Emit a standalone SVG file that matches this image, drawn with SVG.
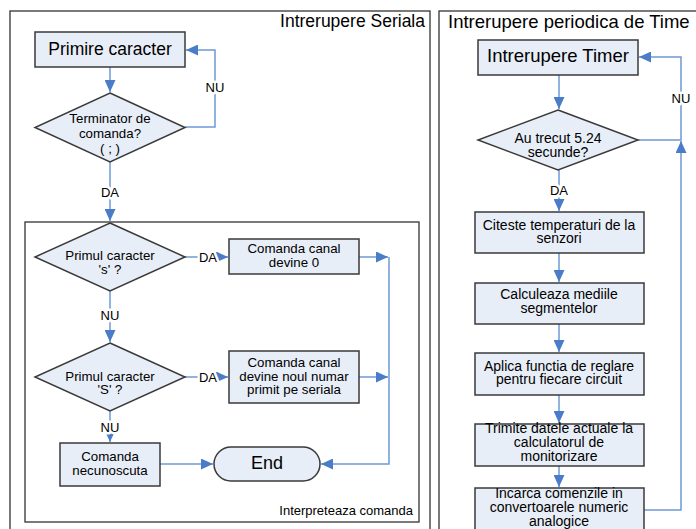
<svg xmlns="http://www.w3.org/2000/svg" width="696" height="529" viewBox="0 0 696 529">
<style>
text{font-family:"Liberation Sans",Arial,sans-serif;fill:#000}
.frame{fill:#fff;stroke:#333;stroke-width:1.3}
.box{fill:#E8EEF7;stroke:#3a3a3a;stroke-width:1.5}
.ln{fill:none;stroke:#6E98D6;stroke-width:1.5}
.lbl{font-size:13px;text-anchor:middle;stroke:#fff;stroke-width:5;paint-order:stroke;stroke-linejoin:round}
.t13{font-size:13.3px;text-anchor:middle}
.t14{font-size:14px;text-anchor:middle}
</style>
<defs>
<marker id="ah" markerUnits="userSpaceOnUse" markerWidth="13" markerHeight="11" refX="12" refY="5.5" orient="auto">
<path d="M0,0 L12,5.5 L0,11 z" fill="#4A7CC7"/>
</marker>
</defs>
<rect width="696" height="529" fill="#fff"/>
<g id="frame-seriala">
<rect class="frame" x="10" y="11" width="420" height="600"/>
<text x="425" y="27" font-size="17.5" text-anchor="end">Intrerupere Seriala</text>
</g>
<g id="frame-timer">
<rect class="frame" x="439" y="11" width="300" height="600"/>
<text x="448" y="28" font-size="18.5">Intrerupere periodica de Time</text>
</g>
<g id="frame-interpreteaza">
<rect class="frame" x="25" y="222" width="394" height="300"/>
<text x="413" y="515" font-size="13" text-anchor="end">Interpreteaza comanda</text>
</g>
<g id="connectors">
<path class="ln" d="M110,67 V92" marker-end="url(#ah)"/>
<path class="ln" d="M185,127 H215 V50 H186" marker-end="url(#ah)"/>
<path class="ln" d="M110,162 V221" marker-end="url(#ah)"/>
<path class="ln" d="M185,257 H228" marker-end="url(#ah)"/>
<path class="ln" d="M110,291 V342" marker-end="url(#ah)"/>
<path class="ln" d="M185,377 H228" marker-end="url(#ah)"/>
<path class="ln" d="M110,411 V442" marker-end="url(#ah)"/>
<path class="ln" d="M160,464 H213" marker-end="url(#ah)"/>
<path class="ln" d="M359,257 H388" marker-end="url(#ah)"/>
<path class="ln" d="M359,377 H388" marker-end="url(#ah)"/>
<path class="ln" d="M389,257 V464 H321" marker-end="url(#ah)"/>
<path class="ln" d="M559,75 V109" marker-end="url(#ah)"/>
<path class="ln" d="M638,140 H681 V57 H639" marker-end="url(#ah)"/>
<path class="ln" d="M559,170 V211" marker-end="url(#ah)"/>
<path class="ln" d="M559,253 V282" marker-end="url(#ah)"/>
<path class="ln" d="M559,324 V352" marker-end="url(#ah)"/>
<path class="ln" d="M559,395 V423" marker-end="url(#ah)"/>
<path class="ln" d="M559,466 V487" marker-end="url(#ah)"/>
<path class="ln" d="M644,510 H681 V141" marker-end="url(#ah)"/>
<text class="lbl" x="215" y="92">NU</text>
<text class="lbl" x="110" y="197">DA</text>
<text class="lbl" x="208" y="262">DA</text>
<text class="lbl" x="110" y="320">NU</text>
<text class="lbl" x="208" y="382">DA</text>
<text class="lbl" x="110" y="432">NU</text>
<text class="lbl" x="681" y="103">NU</text>
<text class="lbl" x="559" y="195">DA</text>
</g>
<g id="primire">
<rect class="box" x="35" y="32" width="150" height="35"/>
<text x="110" y="55" font-size="17.5" text-anchor="middle">Primire caracter</text>
</g>
<g id="terminator">
<polygon class="box" points="110,93 185,127.5 110,162 35,127.5"/>
<text class="t13" x="110" y="123">Terminator de</text>
<text class="t13" x="110" y="138">comanda?</text>
<text class="t13" x="110" y="153">( ; )</text>
</g>
<g id="primul-s">
<polygon class="box" points="110,223 185,257 110,291 35,257"/>
<text class="t13" x="110" y="260">Primul caracter</text>
<text class="t13" x="110" y="274">'s' ?</text>
</g>
<g id="canal-0">
<rect class="box" x="229" y="239" width="130" height="35"/>
<text class="t13" x="294" y="253">Comanda canal</text>
<text class="t13" x="294" y="267">devine 0</text>
</g>
<g id="primul-S">
<polygon class="box" points="110,343 185,377 110,411 35,377"/>
<text class="t13" x="110" y="381">Primul caracter</text>
<text class="t13" x="110" y="394">'S' ?</text>
</g>
<g id="canal-nou">
<rect class="box" x="229" y="351" width="130" height="52"/>
<text class="t13" x="294" y="367">Comanda canal</text>
<text class="t13" x="294" y="381">devine noul numar</text>
<text class="t13" x="294" y="394">primit pe seriala</text>
</g>
<g id="necunoscuta">
<rect class="box" x="60" y="443" width="100" height="43"/>
<text class="t13" x="110" y="461">Comanda</text>
<text class="t13" x="110" y="475">necunoscuta</text>
</g>
<g id="end">
<rect class="box" x="214" y="447" width="106" height="34" rx="17" ry="17"/>
<text x="267" y="469" font-size="18" text-anchor="middle">End</text>
</g>
<g id="intrerupere-timer">
<rect class="box" x="478" y="40" width="160" height="35"/>
<text x="558" y="62" font-size="18.5" text-anchor="middle">Intrerupere Timer</text>
</g>
<g id="au-trecut">
<polygon class="box" points="558,110 638,140 558,170 478,140"/>
<text class="t14" x="558" y="143">Au trecut 5.24</text>
<text class="t14" x="558" y="157">secunde?</text>
</g>
<g id="citeste">
<rect class="box" x="475" y="212" width="169" height="41"/>
<text class="t14" x="559" y="230">Citeste temperaturi de la</text>
<text class="t14" x="559" y="243">senzori</text>
</g>
<g id="calculeaza">
<rect class="box" x="475" y="283" width="169" height="41"/>
<text class="t14" x="559" y="299">Calculeaza mediile</text>
<text class="t14" x="559" y="313">segmentelor</text>
</g>
<g id="aplica">
<rect class="box" x="475" y="353" width="169" height="42"/>
<text class="t14" x="559" y="371">Aplica functia de reglare</text>
<text class="t14" x="559" y="384">pentru fiecare circuit</text>
</g>
<g id="trimite">
<rect class="box" x="475" y="424" width="169" height="42"/>
<text class="t14" x="559" y="433">Trimite datele actuale la</text>
<text class="t14" x="559" y="447">calculatorul de</text>
<text class="t14" x="559" y="461">monitorizare</text>
</g>
<g id="incarca">
<rect class="box" x="475" y="488" width="169" height="60"/>
<text class="t14" x="559" y="498">Incarca comenzile in</text>
<text class="t14" x="559" y="512">convertoarele numeric</text>
<text class="t14" x="559" y="526">analogice</text>
</g>
</svg>
